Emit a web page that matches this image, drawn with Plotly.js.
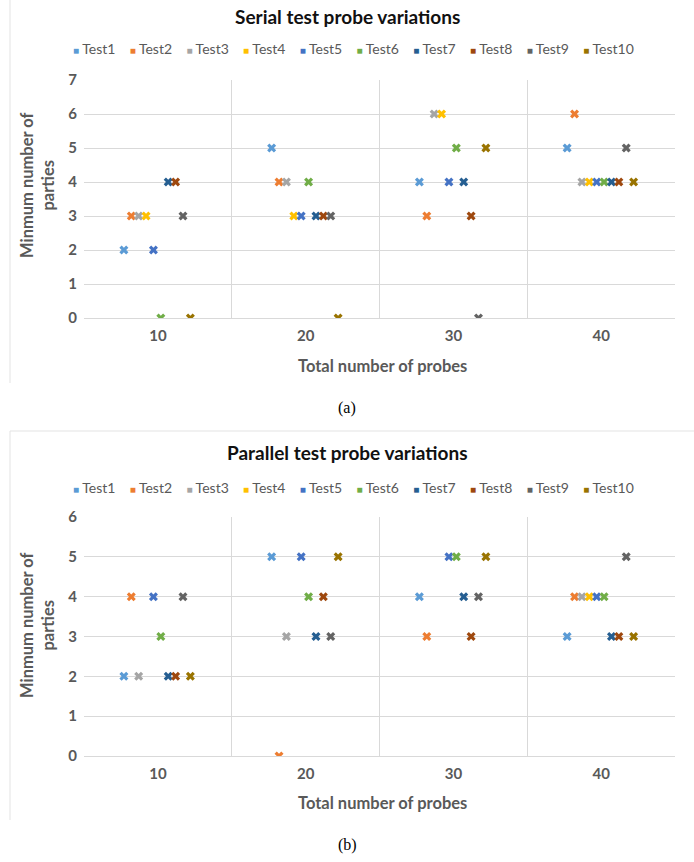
<!DOCTYPE html>
<html><head><meta charset="utf-8">
<script src="https://cdn.plot.ly/plotly-3.0.1.min.js"></script>
<style>html,body{margin:0;padding:0;background:#fff}#chart{width:694px;height:862px}</style>
</head><body><div id="chart"></div>
<script>
// ---- data ----
const categories = [10, 20, 30, 40];
const seriesNames = ['Test1','Test2','Test3','Test4','Test5','Test6','Test7','Test8','Test9','Test10'];
// serial test: values of Test1..Test10 at each probe count
const serial10 = [2, 3, 3, 3, 2, 0, 4, 4, 3, 0];
const serial20 = [5, 4, 4, 3, 3, 4, 3, 3, 3, 0];
const serial30 = [4, 3, 6, 6, 4, 5, 4, 3, 0, 5];
const serial40 = [5, 6, 4, 4, 4, 4, 4, 4, 5, 4];
// parallel test
const parallel10 = [2, 4, 2, null, 4, 3, 2, 2, 4, 2];
const parallel20 = [5, 0, 3, null, 5, 4, 3, 4, 3, 5];
const parallel30 = [4, 3, null, null, 5, 5, 4, 3, 4, 5];
const parallel40 = [3, 4, 4, 4, 4, 4, 3, 3, 5, 3];

// ---- styles ----
const colors = ['#5B9BD5','#ED7D31','#A5A5A5','#FFC000','#4472C4','#70AD47','#255E91','#9E480E','#636363','#997300'];
const xOffsets = [-2.3,-1.8,-1.3,-0.8,-0.3,0.2,0.7,1.2,1.7,2.2];
const W = 694, H = 862;
const FONT = 'Lato, "Open Sans", sans-serif';
const GREY = '#595959';
const py = p => 1 - p / H;
const px = p => p / W;

const serialRows = [serial10, serial20, serial30, serial40];
const parallelRows = [parallel10, parallel20, parallel30, parallel40];

const traces = [];
seriesNames.forEach((name, i) => {
  const xs = categories.map(c => c + xOffsets[i]);
  traces.push({
    type: 'scatter', mode: 'markers', name: name, showlegend: false,
    x: xs, y: serialRows.map(r => r[i]), xaxis: 'x', yaxis: 'y',
    marker: {symbol: 'x', size: 8, color: colors[i], line: {width: 0}}
  });
  traces.push({
    type: 'scatter', mode: 'markers', name: name, showlegend: false,
    x: xs, y: parallelRows.map(r => r[i]), xaxis: 'x2', yaxis: 'y2',
    marker: {symbol: 'x', size: 8, color: colors[i], line: {width: 0}}
  });
});

const tickfont = {family: FONT, size: 15, color: GREY, weight: 'bold'};
function xAxis(anchor) {
  return {
    domain: [px(84), px(675)], anchor: anchor, range: [5, 45],
    tickmode: 'array', tickvals: categories, ticktext: categories.map(String),
    showgrid: false, zeroline: false, showline: true, linecolor: '#d9d9d9', ticks: '',
    minor: {tickmode: 'array', tickvals: [5, 15, 25, 35, 45], showgrid: true, gridcolor: '#d9d9d9', gridwidth: 1, ticks: ''},
    tickfont: tickfont, ticklabelstandoff: 4, fixedrange: true
  };
}
function yAxis(anchor, top, bottom, maxv) {
  return {
    domain: [py(bottom), py(top)], anchor: anchor, range: [0, maxv],
    tickmode: 'linear', tick0: 0, dtick: 1, showgrid: true, gridcolor: '#d9d9d9',
    zeroline: false, showline: false, ticks: '', tickfont: tickfont, ticklabelstandoff: 6, fixedrange: true
  };
}

const legendText = seriesNames.map((n, i) =>
  `<span style="color:${colors[i]};font-size:10px">\u25A0</span>\u00A0${n}`).join('\u00A0\u00A0\u00A0\u00A0');

function ann(text, x, y, opts) {
  return Object.assign({xref: 'paper', yref: 'paper', x: px(x), y: py(y), xanchor: 'center', yanchor: 'middle',
    showarrow: false, text: text, font: {family: FONT, size: 16.5, color: GREY, weight: 'bold'}}, opts || {});
}

const titleFont = {family: FONT, size: 19, color: '#111', weight: 'bold'};
const legendFont = {family: FONT, size: 14, color: GREY, weight: 'normal'};
const capFont = {family: '"Liberation Serif", "DejaVu Serif", serif', size: 16, color: '#000'};

const annotations = [
  ann('Serial test probe variations', 347, 17, {font: titleFont}),
  ann('Parallel test probe variations', 347, 452, {font: titleFont}),
  ann(legendText, 354, 49, {font: legendFont}),
  ann(legendText, 354, 487, {font: legendFont}),
  ann('Total number of probes', 382, 366),
  ann('Total number of probes', 382, 803),
  ann('Minmum number of<br>parties', 37, 185, {textangle: -90}),
  ann('Minmum number of<br>parties', 37, 625, {textangle: -90}),
  ann('(a)', 347, 408, {font: capFont}),
  ann('(b)', 347, 845, {font: capFont})
];

const shapes = [
  {type: 'line', xref: 'paper', yref: 'paper', x0: px(10), x1: px(10), y0: py(0), y1: py(383), line: {color: '#e3e3e3', width: 1}},
  {type: 'line', xref: 'paper', yref: 'paper', x0: px(10), x1: px(10), y0: py(431), y1: py(820), line: {color: '#e3e3e3', width: 1}},
  {type: 'line', xref: 'paper', yref: 'paper', x0: px(10), x1: 1, y0: py(431), y1: py(431), line: {color: '#e3e3e3', width: 1}}
];

const layout = {
  width: W, height: H, margin: {l: 0, r: 0, t: 0, b: 0},
  paper_bgcolor: '#fff', plot_bgcolor: '#fff', showlegend: false,
  font: {family: FONT, color: GREY},
  xaxis: xAxis('y'), yaxis: yAxis('x', 80, 318, 7),
  xaxis2: xAxis('y2'), yaxis2: yAxis('x2', 517, 756, 6),
  annotations: annotations, shapes: shapes
};

Plotly.newPlot('chart', traces, layout, {staticPlot: true, displayModeBar: false});
</script></body></html>
